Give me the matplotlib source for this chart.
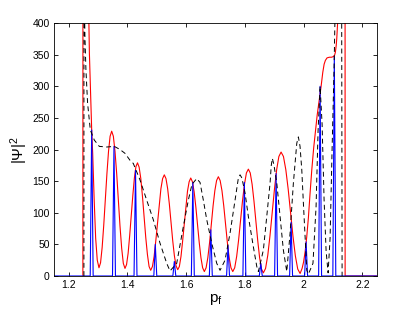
import matplotlib
matplotlib.use("Agg")
import matplotlib.pyplot as plt
import numpy as np

# red curve (p_f, |Psi|^2)
red_p = [
    1.2485, 1.2490, 1.2680, 1.2690, 1.2707, 1.2741, 1.2761, 1.2785, 1.2819,
    1.2870, 1.2920, 1.2975, 1.3033,
    1.3087, 1.3141, 1.3195, 1.3250, 1.3304, 1.3358, 1.3412, 1.3466,
    1.3523, 1.3579, 1.3636, 1.3693, 1.3749, 1.3806, 1.3862, 1.3919,
    1.3972, 1.4026, 1.4079, 1.4132, 1.4185, 1.4239, 1.4292, 1.4345,
    1.4401, 1.4458, 1.4514, 1.4570, 1.4626, 1.4683, 1.4739, 1.4795,
    1.4853, 1.4911, 1.4969, 1.5027, 1.5084, 1.5142, 1.5200, 1.5258,
    1.5315, 1.5372, 1.5429, 1.5487, 1.5544, 1.5601, 1.5658, 1.5715,
    1.5770, 1.5826, 1.5881, 1.5937, 1.5992, 1.6047, 1.6103, 1.6158,
    1.6216, 1.6274, 1.6332, 1.6390, 1.6447, 1.6505, 1.6563, 1.6621,
    1.6681, 1.6740, 1.6800, 1.6860, 1.6919, 1.6979, 1.7038, 1.7098,
    1.7159, 1.7221, 1.7282, 1.7344, 1.7405, 1.7466, 1.7528, 1.7589,
    1.7655, 1.7722, 1.7788, 1.7855, 1.7921, 1.7987, 1.8054, 1.8120,
    1.8184, 1.8248, 1.8312, 1.8376, 1.8439, 1.8503, 1.8567, 1.8631,
    1.8706, 1.8782, 1.8857, 1.8933, 1.9008, 1.9083, 1.9159, 1.9234,
    1.9315, 1.9396, 1.9477, 1.9558, 1.9639, 1.9720, 1.9801, 1.9882,
    1.9950, 2.0000, 2.0052, 2.0108, 2.0164, 2.0220, 2.0280, 2.0345,
    2.0409, 2.0465, 2.0518, 2.0560, 2.0597, 2.0654, 2.0700, 2.0743,
    2.0800, 2.0879, 2.0950, 2.1015, 2.1055, 2.1084, 2.1110, 2.1131,
    2.1150, 2.1165, 2.1240, 2.1400, 2.1410, 2.1415, 2.2500,
]
red_v = [
    0, 1500, 500, 400, 352, 299, 268, 231, 194,
    120, 60, 25, 13,
    21, 45, 80, 121, 162, 197, 221, 229,
    221, 197, 162, 120, 79, 44, 20, 12,
    18, 36, 64, 95, 127, 155, 173, 179,
    172, 154, 126, 94, 61, 34, 15, 9,
    15, 31, 56, 84, 113, 138, 154, 160,
    154, 138, 114, 85, 56, 32, 16, 10,
    15, 31, 55, 82, 110, 134, 149, 155,
    149, 133, 109, 81, 53, 29, 13, 7,
    13, 29, 53, 82, 111, 135, 151, 157,
    151, 135, 111, 82, 53, 29, 13, 7,
    13, 31, 57, 88, 119, 145, 163, 169,
    163, 145, 118, 87, 56, 29, 11, 5,
    12, 33, 64, 100, 137, 168, 189, 196,
    189, 168, 137, 100, 63, 32, 11, 4,
    12, 22, 38, 62, 92, 130, 168, 203,
    231, 255, 273, 288, 300, 322, 335, 341,
    345, 346, 346, 347, 349, 354, 364, 376,
    392, 405, 600, 1500, 1500, 0, 0,
]

# black dashed curve
dash_p = [
    1.2520, 1.2525, 1.2540, 1.2555, 1.2589, 1.2646, 1.2738, 1.2874, 1.3044,
    1.3300, 1.3555, 1.3750, 1.3919, 1.4090, 1.4202, 1.4430, 1.4658, 1.4883,
    1.5111, 1.5340, 1.5452, 1.5680, 1.5905, 1.6076, 1.6200, 1.6362, 1.6474,
    1.6587, 1.6703, 1.6873, 1.7043, 1.7156, 1.7326, 1.7497, 1.7667, 1.7780,
    1.7837, 1.7900, 1.8008, 1.8120, 1.8291, 1.8407, 1.8461, 1.8631, 1.8746,
    1.8859, 1.8900, 1.8937, 1.8990, 1.9088, 1.9200, 1.9312, 1.9428, 1.9541,
    1.9653, 1.9769, 1.9823, 1.9880, 1.9939, 1.9994, 2.0052, 2.0110, 2.0164,
    2.0320, 2.0426, 2.0494, 2.0563, 2.0631, 2.0699, 2.0767, 2.0835, 2.0903,
    2.0971, 2.1039, 2.1090, 2.1278, 2.1312,
]
dash_v = [
    0, 1500, 420, 378, 326, 273, 231, 215, 205,
    204, 205, 200, 194, 183, 178, 152, 120, 89,
    52, 20, 8, 20, 78, 120, 145, 154, 148,
    120, 89, 52, 20, 9, 25, 68, 120, 155,
    160, 155, 131, 94, 46, 15, 7, 41, 94,
    147, 175, 186, 176, 147, 94, 41, 7, 68,
    147, 210, 220, 205, 168, 115, 62, 9, 3,
    20, 110, 230, 300, 240, 120, 40, 5, 60,
    200, 330, 460, 1000, 0,
]

# blue resonance spikes: centre and height
spike_p = [1.2785, 1.3544, 1.4277, 1.4951, 1.5599, 1.6229, 1.6842, 1.7428,
           1.7984, 1.8543, 1.9064, 1.9575, 2.0086, 2.0563, 2.1047]
spike_v = [231, 205, 167, 50, 23, 148, 73, 48, 148, 20, 162, 85, 54, 300, 347]

x_lim = (1.15, 2.25)
half_w = 0.005

blue_x = [x_lim[0]]
blue_y = [0]
for c, h in zip(spike_p, spike_v):
    blue_x += [c - half_w, c, c + half_w]
    blue_y += [0, h, 0]
blue_x.append(x_lim[1])
blue_y.append(0)

plt.rcParams["font.family"] = ["Liberation Sans", "DejaVu Sans"]
plt.rcParams["mathtext.default"] = "regular"

fig = plt.figure(figsize=(4.15, 3.12), dpi=100)
ax = fig.add_axes([0.130, 0.1154, 0.7784, 0.8106])

ax.plot(red_p, red_v, color="red", lw=0.8)
ax.plot(blue_x, blue_y, color="blue", lw=0.8)
ax.plot(dash_p, dash_v, color="black", lw=0.7, ls=(0, (5, 3.5)))

ax.set_xlim(*x_lim)
ax.set_ylim(0, 400)
ax.set_xticks([1.2, 1.4, 1.6, 1.8, 2.0, 2.2])
ax.set_xticklabels(["1.2", "1.4", "1.6", "1.8", "2", "2.2"])
ax.set_yticks(np.arange(0, 401, 50))
ax.tick_params(direction="in", top=True, right=True, length=3, width=0.6,
               labelsize=7.5, pad=3)
for s in ax.spines.values():
    s.set_linewidth(0.6)

ax.set_xlabel(r"p$_f$", fontsize=11, labelpad=1)
ax.set_ylabel(r"|Ψ|$^2$", fontsize=11, labelpad=2)

fig.savefig("out.png", dpi=100)
